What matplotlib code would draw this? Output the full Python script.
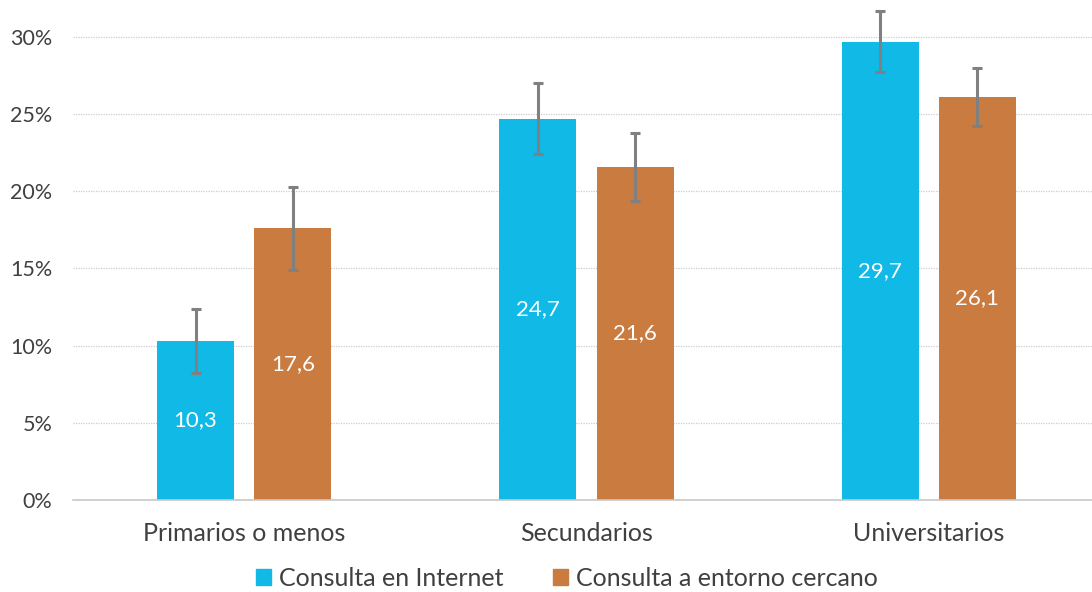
import matplotlib
matplotlib.use("Agg")
import matplotlib.pyplot as plt
import numpy as np
from matplotlib.patches import Patch

plt.rcParams['font.family'] = ['Lato', 'DejaVu Sans']

categories = ["Primarios o menos", "Secundarios", "Universitarios"]
series_names = ["Consulta en Internet", "Consulta a entorno cercano"]
internet = [10.3, 24.7, 29.7]
entorno = [17.6, 21.6, 26.1]
internet_err = [2.1, 2.3, 2.0]
entorno_err = [2.7, 2.2, 1.9]
yticks = [0, 5, 10, 15, 20, 25, 30]

blue = "#10B9E6"
orange = "#C97B40"
err_color = "#808080"

fig = plt.figure(figsize=(10.92, 5.92), dpi=100)
ax = fig.add_axes([73 / 1092, 1 - 500 / 592, (1092 - 73) / 1092, 494 / 592])

x = np.arange(len(categories))
w = 0.225
off = 0.142
for xs, vals, errs, col in [(x - off, internet, internet_err, blue),
                            (x + off, entorno, entorno_err, orange)]:
    ax.bar(xs, vals, width=w, color=col, zorder=2)
    ax.errorbar(xs, vals, yerr=errs, fmt='none', ecolor=err_color,
                elinewidth=2.2, capsize=3.5, capthick=2.2, zorder=3)
    for xi, v in zip(xs, vals):
        ax.text(xi, v / 2, f"{v:.1f}".replace(".", ","), ha='center', va='center',
                color='white', fontsize=16, zorder=4)

ax.set_xlim(-0.5, 2.477)
ax.set_ylim(0, 32.0)
ax.set_yticks(yticks)
ax.set_yticklabels([f"{t}%" for t in yticks], fontsize=15.5, color="#404040")
ax.set_xticks(x)
ax.set_xticklabels(categories, fontsize=18, color="#404040")
ax.tick_params(axis='both', length=0)
ax.tick_params(axis='y', pad=15)
ax.tick_params(axis='x', pad=16)
ax.yaxis.grid(True, linestyle=(0, (1, 1)), color="#CDCDCD", linewidth=0.9, zorder=0)
ax.set_axisbelow(True)
for s in ['top', 'right', 'left']:
    ax.spines[s].set_visible(False)
ax.spines['bottom'].set_color("#C8C8C8")
ax.spines['bottom'].set_linewidth(1.2)

handles = [Patch(color=blue), Patch(color=orange)]
fig.legend(handles, series_names, loc='center', bbox_to_anchor=(567 / 1092, 1 - 578 / 592),
           ncol=2, frameon=False, fontsize=18, handlelength=0.6, handleheight=0.6,
           handletextpad=0.3, columnspacing=2.0, labelcolor="#404040")

fig.savefig("out.png", dpi=100)
